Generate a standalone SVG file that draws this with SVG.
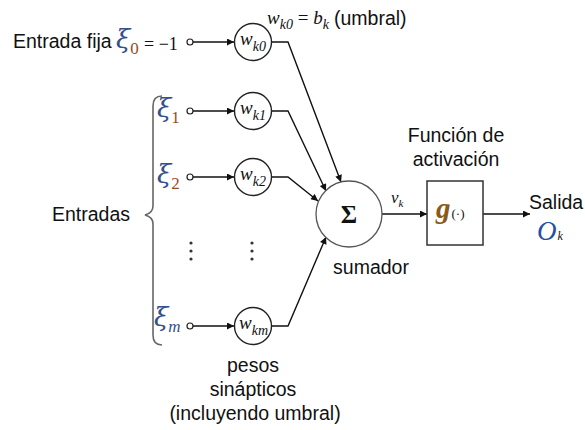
<svg xmlns="http://www.w3.org/2000/svg" width="585" height="430" viewBox="0 0 585 430">
<defs>
<marker id="ah" viewBox="0 0 10 10" refX="10" refY="5" markerWidth="9" markerHeight="7" markerUnits="userSpaceOnUse" orient="auto">
<path d="M0,0 L10,5 L0,10 z" fill="#111"/>
</marker>
<style>
.sans{font-family:"Liberation Sans",Arial,sans-serif;font-size:19.5px;fill:#111}
.ser{font-family:"Liberation Serif","Times New Roman",serif;fill:#111}
.it{font-style:italic}
.xi{font-family:"DejaVu Serif","Liberation Serif",serif;font-style:italic;font-size:26px;fill:#35508c}
.sub{font-family:"Liberation Serif","Times New Roman",serif;font-style:normal;font-size:17px;fill:#9a4a22}
.wc{fill:#fff;stroke:#222;stroke-width:1.4}
.wt{font-family:"Liberation Serif","Times New Roman",serif;font-style:italic;font-size:19px;fill:#111}
.ws{font-size:14px}
.ln{fill:none;stroke:#111;stroke-width:1.4}
.term{fill:#fff;stroke:#222;stroke-width:1.2}
.dot{fill:#333}
</style>
</defs>
<rect width="585" height="430" fill="#fff"/>

<g id="connectors">
<line class="ln" x1="193" y1="42" x2="234" y2="42" marker-end="url(#ah)"/>
<line class="ln" x1="193" y1="111" x2="234" y2="111" marker-end="url(#ah)"/>
<line class="ln" x1="193" y1="177" x2="234" y2="177" marker-end="url(#ah)"/>
<line class="ln" x1="193" y1="326" x2="234" y2="326" marker-end="url(#ah)"/>
<polyline class="ln" points="272,42 288,42 341,182" marker-end="url(#ah)"/>
<polyline class="ln" points="272,111 288,111 326,191" marker-end="url(#ah)"/>
<polyline class="ln" points="272,177 288,177 318,201" marker-end="url(#ah)"/>
<polyline class="ln" points="272,326 288,326 326,237" marker-end="url(#ah)"/>
<line class="ln" x1="382" y1="214" x2="427" y2="214" marker-end="url(#ah)"/>
<line class="ln" x1="483" y1="214" x2="530" y2="214" marker-end="url(#ah)"/>
</g>

<g id="input0">
<text class="sans" x="13" y="48">Entrada fija</text>
<text class="xi" x="116" y="48">ξ<tspan class="sub" dy="6">0</tspan></text>
<text class="ser" x="144" y="50" font-size="18">= −1</text>
<circle class="term" cx="190" cy="42" r="3"/>
</g>
<g id="input1">
<text class="xi" x="157" y="117">ξ<tspan class="sub" dy="6">1</tspan></text>
<circle class="term" cx="190" cy="111" r="3"/>
</g>
<g id="input2">
<text class="xi" x="157" y="183">ξ<tspan class="sub" dy="6">2</tspan></text>
<circle class="term" cx="190" cy="177" r="3"/>
</g>
<g id="inputm">
<text class="xi" x="154" y="326">ξ<tspan class="sub" dy="6" style="font-style:italic;fill:#35508c">m</tspan></text>
<circle class="term" cx="190" cy="326" r="3"/>
</g>
<g id="inputs-dots">
<circle class="dot" cx="191" cy="243" r="1.6"/>
<circle class="dot" cx="191" cy="251" r="1.6"/>
<circle class="dot" cx="191" cy="259" r="1.6"/>
<circle class="dot" cx="252" cy="243" r="1.6"/>
<circle class="dot" cx="252" cy="251" r="1.6"/>
<circle class="dot" cx="252" cy="259" r="1.6"/>
</g>
<g id="entradas">
<text class="sans" x="52" y="221">Entradas</text>
<path d="M162,96 Q153,96 153,106 L153,206 Q153,213 145,215 Q153,217 153,224 L153,335 Q153,345 162,345" fill="none" stroke="#666" stroke-width="1.6"/>
</g>

<g id="w0">
<circle class="wc" cx="253" cy="42" r="18.5"/>
<text class="wt" x="240" y="45">w<tspan class="ws" dy="6">k0</tspan></text>
</g>
<g id="w0-label">
<text class="wt" x="267" y="24" font-size="21">w<tspan class="ws" dy="5" font-size="15">k0</tspan><tspan dy="-5" style="font-style:normal"> = </tspan>b<tspan class="ws" dy="5">k</tspan></text>
<text class="sans" x="334" y="25">(umbral)</text>
</g>
<g id="w1">
<circle class="wc" cx="253" cy="111" r="18.5"/>
<text class="wt" x="240" y="114">w<tspan class="ws" dy="6">k1</tspan></text>
</g>
<g id="w2">
<circle class="wc" cx="253" cy="177" r="18.5"/>
<text class="wt" x="240" y="180">w<tspan class="ws" dy="6">k2</tspan></text>
</g>
<g id="wm">
<circle class="wc" cx="253" cy="326" r="18.5"/>
<text class="wt" x="239" y="329">w<tspan class="ws" dy="6">km</tspan></text>
</g>
<g id="pesos">
<text class="sans" x="253" y="372" text-anchor="middle">pesos</text>
<text class="sans" x="253" y="396" text-anchor="middle">sinápticos</text>
<text class="sans" x="255" y="420" text-anchor="middle">(incluyendo umbral)</text>
</g>

<g id="sumador">
<circle cx="349" cy="214" r="33" fill="#fff" stroke="#555" stroke-width="1.3"/>
<text class="ser" x="349" y="223" font-size="25" font-weight="bold" text-anchor="middle">Σ</text>
<text class="sans" x="371" y="274" text-anchor="middle">sumador</text>
</g>
<g id="vk">
<text class="ser it" x="391" y="203" font-size="17">v<tspan font-size="11" dy="4">k</tspan></text>
</g>

<g id="activacion">
<text class="sans" x="456" y="142" text-anchor="middle">Función de</text>
<text class="sans" x="456" y="166" text-anchor="middle">activación</text>
<rect x="427" y="181" width="56" height="64" fill="#fff" stroke="#333" stroke-width="1.5"/>
<text class="ser it" x="436" y="218" font-size="29" font-weight="bold" style="fill:#8a5a1a">g<tspan style="font-size:13px;font-weight:normal;font-style:normal;fill:#111" dx="1">(·)</tspan></text>
</g>

<g id="salida">
<text class="sans" x="529" y="209">Salida</text>
<text class="ser it" x="537" y="240" font-size="27" style="fill:#2350a0">O<tspan font-size="12" dx="1" style="fill:#111">k</tspan></text>
</g>
</svg>
